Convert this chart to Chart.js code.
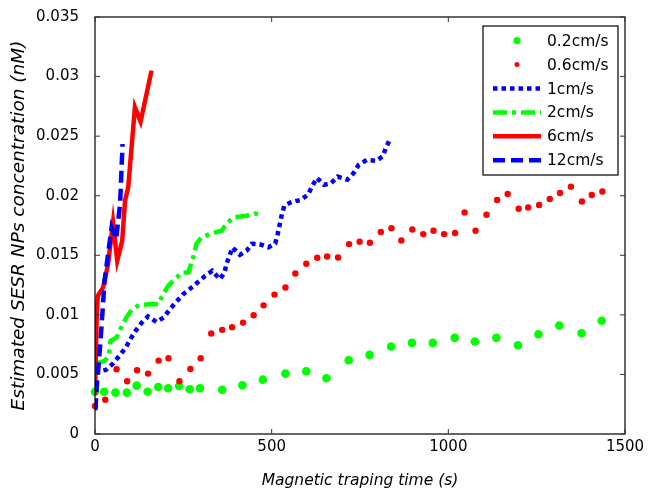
<!DOCTYPE html>
<html><head><meta charset="utf-8">
<script src="https://cdn.jsdelivr.net/npm/chart.js@4.4.0/dist/chart.umd.min.js"></script>
<style>html,body{margin:0;padding:0;background:#fff;}#wrap{width:652px;height:491px;}</style>
</head><body><div id="wrap"><canvas id="c" width="652" height="491"></canvas></div>
<script>
// ---- data ----
const seriesLabels = ['0.2cm/s', '0.6cm/s', '1cm/s', '2cm/s', '6cm/s', '12cm/s'];

const s02T = [0,26,58,90,118,149,179,207,238,268,297,360,417,475,539,598,655,718,777,838,897,956,1018,1075,1136,1197,1255,1314,1377,1434];
const s02V = [0.00355,0.00355,0.00347,0.00347,0.00406,0.00355,0.00395,0.00384,0.00403,0.00376,0.00384,0.00372,0.00409,0.00456,0.00507,0.00527,0.00468,0.00619,0.00664,0.00734,0.00765,0.00765,0.00807,0.00776,0.00807,0.00745,0.00837,0.00910,0.00846,0.00950];

const s06T = [0,29,61,91,119,150,180,208,239,270,299,329,360,388,419,449,477,508,539,567,598,629,657,688,719,749,778,809,839,867,898,929,958,988,1019,1046,1077,1108,1138,1168,1199,1226,1257,1287,1316,1347,1378,1406,1436];
const s06V = [0.00235,0.00288,0.00544,0.00443,0.00535,0.00507,0.00616,0.00636,0.00443,0.00546,0.00636,0.00843,0.00874,0.00897,0.00935,0.00997,0.0108,0.0117,0.0123,0.01347,0.01429,0.01479,0.0149,0.01482,0.01594,0.01613,0.01605,0.01695,0.01727,0.01624,0.01717,0.01678,0.01706,0.01678,0.01687,0.0186,0.01706,0.0184,0.01964,0.02014,0.01891,0.01902,0.01922,0.01972,0.02023,0.02076,0.01952,0.02006,0.02036];

const s1T = [0,31,51,71,87,101,115,131,150,174,195,212,230,248,270,290,312,332,353,366,372,389,410,429,444,466,491,510,517,523,529,536,556,582,603,615,628,648,667,687,714,731,746,769,796,814,824,836];
const s1V = [0.0052,0.00538,0.00592,0.00664,0.00725,0.00801,0.00866,0.0093,0.00987,0.00941,0.00979,0.01048,0.01108,0.0117,0.01221,0.01271,0.01328,0.0137,0.013,0.0135,0.01426,0.01566,0.01504,0.01538,0.01597,0.01592,0.01567,0.01599,0.01678,0.01762,0.01846,0.01916,0.01947,0.01964,0.0201,0.02082,0.02149,0.02092,0.02103,0.0216,0.02134,0.02187,0.02258,0.023,0.02292,0.0233,0.02406,0.02482];

const s2T = [0,27,39,44,61,73,88,105,126,153,179,188,207,231,245,264,278,287,301,325,358,372,391,429,452,471];
const s2V = [0.0059,0.00613,0.00655,0.00782,0.0081,0.00887,0.00975,0.01048,0.01084,0.01088,0.0109,0.01145,0.01244,0.01313,0.01355,0.01355,0.01482,0.01594,0.0165,0.01678,0.01706,0.01762,0.01818,0.01832,0.01851,0.0184];

const s6T = [0,5,8,23,37,51,63,77,85,94,113,129,160];
const s6V = [0.0033,0.0101,0.0116,0.0123,0.01426,0.01776,0.01454,0.01622,0.01958,0.0207,0.02742,0.02622,0.0305];

const s12T = [1,6,9,19,27,37,47,60,71,78];
const s12V = [0.002,0.00445,0.0053,0.00924,0.01286,0.0151,0.01734,0.01639,0.0193,0.02434];

const xTickVals = [0, 500, 1000, 1500];
const xTickLabels = ['0', '500', '1000', '1500'];
const yTickVals = [0, 0.005, 0.01, 0.015, 0.02, 0.025, 0.03, 0.035];
const yTickLabels = ['0', '0.005', '0.01', '0.015', '0.02', '0.025', '0.03', '0.035'];

const xTitle = 'Magnetic traping time (s)';
const yTitle = 'Estimated SESR NPs concentration (nM)';

// ---- build ----
const pts = (T, V) => T.map((t, i) => ({x: t, y: V[i]}));
const FONT = '"DejaVu Sans", "Liberation Sans", Arial, sans-serif';

const datasets = [
  {label: seriesLabels[0], data: pts(s02T, s02V), showLine: false, pointRadius: 4.3, pointBackgroundColor: '#00ff00', pointBorderWidth: 0, borderColor: '#00ff00', clip: false, order: 5},
  {label: seriesLabels[1], data: pts(s06T, s06V), showLine: false, pointRadius: 3.2, pointBackgroundColor: '#ff0000', pointBorderWidth: 0, borderColor: '#ff0000', clip: false, order: 4},
  {label: seriesLabels[2], data: pts(s1T, s1V), showLine: true, pointRadius: 0, borderColor: '#0000ff', borderWidth: 4.5, borderDash: [4.5, 4], order: 3},
  {label: seriesLabels[3], data: pts(s2T, s2V), showLine: true, pointRadius: 0, borderColor: '#00ff00', borderWidth: 4.5, borderDash: [14, 5, 4, 5], order: 2},
  {label: seriesLabels[4], data: pts(s6T, s6V), showLine: true, pointRadius: 0, borderColor: '#ff0000', borderWidth: 4.5, order: 1},
  {label: seriesLabels[5], data: pts(s12T, s12V), showLine: true, pointRadius: 0, borderColor: '#0000ff', borderWidth: 4.5, borderDash: [12, 6], order: 0}
];

const framePlugin = {
  id: 'frame',
  afterDatasetsDraw(chart) {
    const {ctx, chartArea: a, scales: {x, y}} = chart;
    ctx.save();
    ctx.strokeStyle = '#000';
    ctx.lineWidth = 1.2;
    ctx.strokeRect(a.left, a.top, a.right - a.left, a.bottom - a.top);
    ctx.lineWidth = 1;
    ctx.strokeStyle = '#333';
    const tl = 5;
    ctx.beginPath();
    xTickVals.forEach(v => {
      const p = x.getPixelForValue(v);
      ctx.moveTo(p, a.bottom); ctx.lineTo(p, a.bottom - tl);
      ctx.moveTo(p, a.top); ctx.lineTo(p, a.top + tl);
    });
    yTickVals.forEach(v => {
      const p = y.getPixelForValue(v);
      ctx.moveTo(a.left, p); ctx.lineTo(a.left + tl, p);
      ctx.moveTo(a.right, p); ctx.lineTo(a.right - tl, p);
    });
    ctx.stroke();
    ctx.restore();
  }
};

const legendPlugin = {
  id: 'mlegend',
  afterDraw(chart) {
    const {ctx, chartArea: a} = chart;
    const bx = a.right - 142, by = a.top + 9, bw = 135, bh = 149;
    ctx.save();
    ctx.fillStyle = '#fff';
    ctx.fillRect(bx, by, bw, bh);
    ctx.strokeStyle = '#000';
    ctx.lineWidth = 1.2;
    ctx.strokeRect(bx, by, bw, bh);
    const rowH = 23.9, y0 = by + 14.7;
    const lx0 = bx + 10, lx1 = bx + 58, tx = bx + 64;
    chart.data.datasets.forEach((ds, i) => {
      const cy = y0 + i * rowH;
      if (ds.showLine) {
        ctx.beginPath();
        ctx.strokeStyle = ds.borderColor;
        ctx.lineWidth = ds.borderWidth;
        ctx.setLineDash(ds.borderDash || []);
        ctx.moveTo(lx0, cy); ctx.lineTo(lx1, cy);
        ctx.stroke();
        ctx.setLineDash([]);
      } else {
        ctx.beginPath();
        ctx.fillStyle = ds.pointBackgroundColor;
        ctx.arc((lx0 + lx1) / 2, cy, ds.pointRadius - 0.7, 0, Math.PI * 2);
        ctx.fill();
      }
      ctx.fillStyle = '#000';
      ctx.font = '15.5px ' + FONT;
      ctx.textBaseline = 'middle';
      ctx.textAlign = 'left';
      ctx.fillText(ds.label, tx, cy + 1);
    });
    ctx.restore();
  }
};

new Chart(document.getElementById('c'), {
  type: 'scatter',
  data: {datasets},
  plugins: [framePlugin, legendPlugin],
  options: {
    responsive: false,
    devicePixelRatio: 1,
    animation: false,
    layout: {padding: {left: 0, right: 27, top: 17, bottom: 0}},
    plugins: {legend: {display: false}, tooltip: {enabled: false}},
    scales: {
      x: {
        type: 'linear', min: 0, max: 1500,
        afterBuildTicks: s => { s.ticks = xTickVals.map(v => ({value: v})); },
        afterFit: s => { s.height = 57; },
        grid: {display: false, drawTicks: false}, border: {display: false},
        ticks: {color: '#000', font: {family: FONT, size: 15}, padding: 4, maxRotation: 0,
          callback: (v, i) => xTickLabels[i]},
        title: {display: true, text: xTitle, color: '#000', font: {family: FONT, size: 15.5, style: 'italic'}, padding: {top: 0, bottom: 1}}
      },
      y: {
        type: 'linear', min: 0, max: 0.035,
        afterBuildTicks: s => { s.ticks = yTickVals.map(v => ({value: v})); },
        afterFit: s => { s.width = 95; },
        grid: {display: false}, border: {display: false},
        ticks: {color: '#000', font: {family: FONT, size: 15}, padding: 8,
          callback: (v, i) => yTickLabels[i]},
        title: {display: true, text: yTitle, color: '#000', font: {family: FONT, size: 18.5, style: 'italic'}, padding: {top: 8, bottom: 0}}
      }
    }
  }
});
</script>
</body></html>
